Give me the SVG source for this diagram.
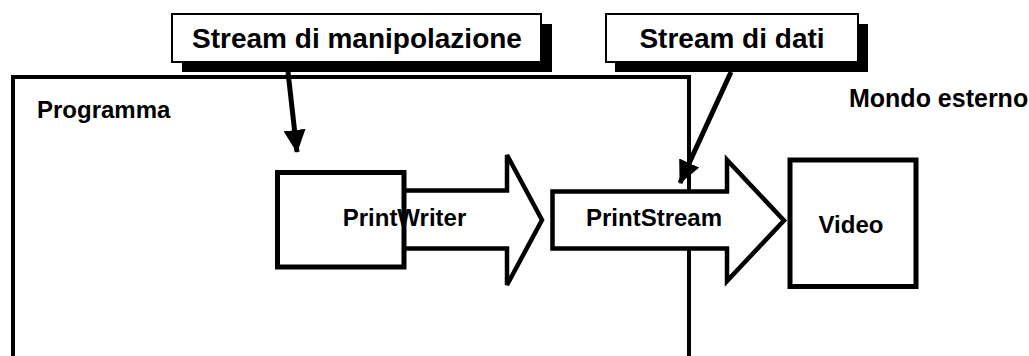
<svg xmlns="http://www.w3.org/2000/svg" width="1029" height="356" viewBox="0 0 1029 356">
<style>
text{font-family:"Liberation Sans",Arial,sans-serif;font-weight:bold;fill:#000}
.frame{fill:none;stroke:#000;stroke-width:4}
.box{fill:#fff;stroke:#000;stroke-width:5}
.barrow{fill:#fff;stroke:#000;stroke-width:4.5;stroke-linejoin:miter}
.callout{fill:#fff;stroke:#000;stroke-width:2}
.shadow{fill:#000}
.conn{fill:none;stroke:#000;stroke-width:5}
</style>
<defs>
<marker id="ah" markerUnits="userSpaceOnUse" markerWidth="24" markerHeight="24" viewBox="0 0 24 24" refX="22" refY="12" orient="auto">
<path d="M0,1 L23,12 L0,23 z" fill="#000"/>
</marker>
</defs>
<g id="frame">
<path class="frame" d="M13,360 V77 H689 V360"/>
<text x="37" y="118" font-size="24">Programma</text>
</g>
<g id="mondo-esterno">
<text x="849" y="107" font-size="25">Mondo esterno</text>
</g>
<g id="printwriter-arrow">
<path class="barrow" d="M404,190.5 H507 V155 L542,220 L507,285 V248.5 H404"/>
</g>
<g id="printwriter">
<rect class="box" x="277.5" y="172.5" width="126.5" height="94.5"/>
<text x="404.5" y="226" font-size="24" text-anchor="middle">PrintWriter</text>
</g>
<g id="printstream">
<path class="barrow" d="M552.5,191.5 H727 V160 L784,220.5 L727,281 V248.5 H552.5 z"/>
<text x="654" y="226" font-size="24" text-anchor="middle">PrintStream</text>
</g>
<g id="video">
<rect class="box" x="790" y="160" width="126" height="126.5"/>
<text x="851" y="233" font-size="24" text-anchor="middle">Video</text>
</g>
<g id="stream-manipolazione">
<rect class="shadow" x="182" y="24" width="370" height="48"/>
<rect class="callout" x="172" y="14" width="369" height="48"/>
<text x="357" y="48" font-size="28" text-anchor="middle">Stream di manipolazione</text>
</g>
<g id="stream-dati">
<rect class="shadow" x="615" y="24" width="253" height="48"/>
<rect class="callout" x="606" y="14" width="252" height="48"/>
<text x="732" y="48" font-size="28" text-anchor="middle">Stream di dati</text>
</g>
<g id="connectors">
<line class="conn" x1="288" y1="72" x2="297" y2="152" marker-end="url(#ah)"/>
<line class="conn" x1="731" y1="72" x2="680" y2="183" marker-end="url(#ah)"/>
</g>
</svg>
